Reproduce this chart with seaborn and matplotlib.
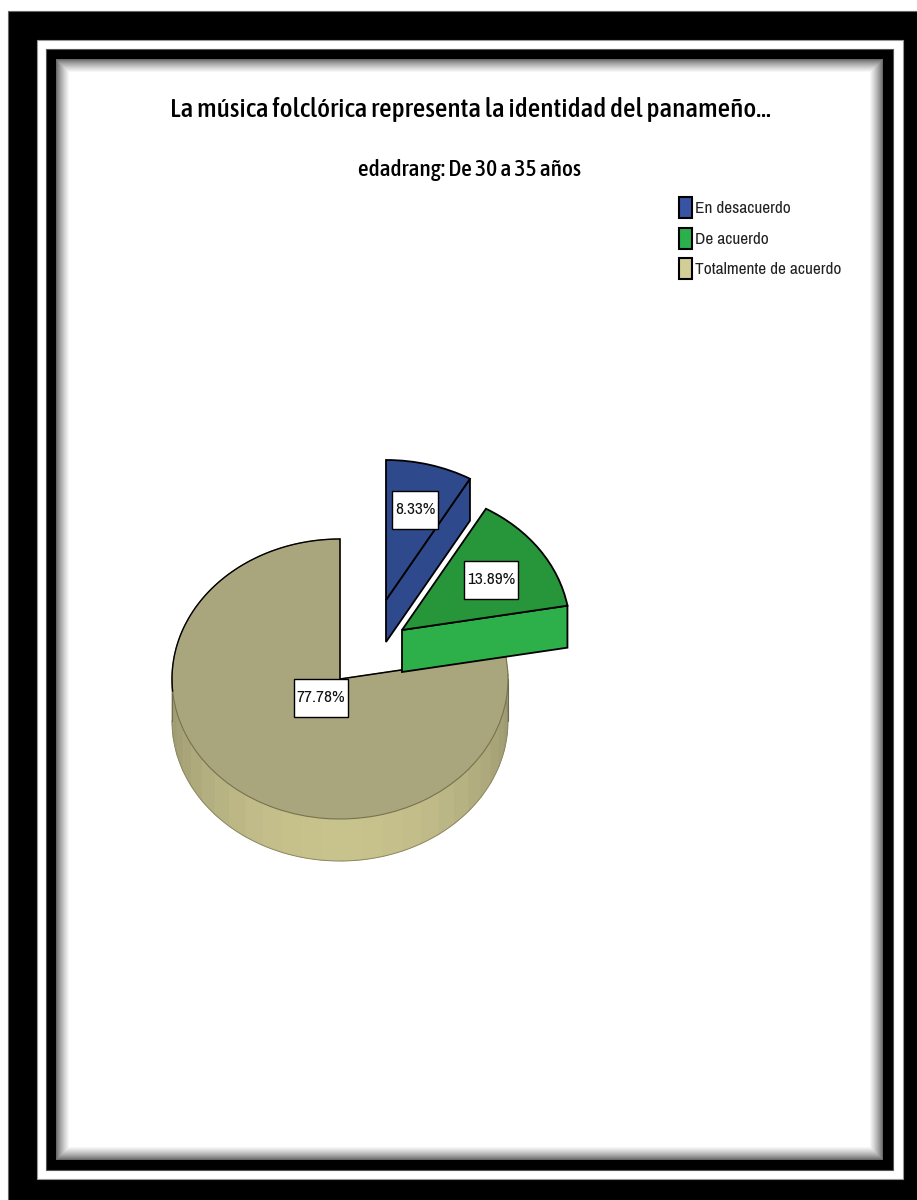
import numpy as np
import seaborn as sns
import matplotlib
matplotlib.use('Agg')
import matplotlib.pyplot as plt
from matplotlib.patches import Rectangle, Polygon, Patch

# datos del grafico
categorias = ['En desacuerdo', 'De acuerdo', 'Totalmente de acuerdo']
porcentajes = [8.33, 13.89, 77.78]
titulo = 'La música folclórica representa la identidad del panameño...'
subtitulo = 'edadrang: De 30 a 35 años'

sns.set_theme(style='white')
FUENTE = ['Archivo Narrow', 'Liberation Sans', 'DejaVu Sans']
FUENTE_B = ['Asap Condensed', 'Liberation Sans', 'DejaVu Sans']
PESO_B = 500
plt.rcParams['font.family'] = FUENTE

colores_leyenda = sns.color_palette(['#3953A4', '#2BB14B', '#D3CE97'])
colores_cara = sns.color_palette(['#2F4A8C', '#27963A', '#A9A57C'])
colores_lado = sns.color_palette(['#2F4A8C', '#2DB04A', '#C8C28D'])

W, H = 917, 1200
fig = plt.figure(figsize=(W / 100, H / 100), dpi=100, facecolor='white')

# ---- marco negro con sombra interior (en pixeles)
marco = fig.add_axes([0, 0, 1, 1], zorder=0)
marco.set_xlim(0, W)
marco.set_ylim(H, 0)
marco.axis('off')
marco.add_patch(Rectangle((8, 11), W, H, fc='black', ec='#666666', lw=0.8))
marco.add_patch(Rectangle((37, 40), 866, 1139, fc='white', ec='#999999', lw=0.8))
marco.add_patch(Rectangle((46, 49), 847, 1121, fc='black', ec='#555555', lw=0.8))
pasos = 14
for i in range(pasos):
    gris = min(1.0, 0.3 + 0.7 * ((i + 1) / pasos) ** 0.7)
    marco.add_patch(Rectangle((56 + i, 59 + i), 827 - 2 * i, 1101 - 2 * i,
                              fc='white' if i == pasos - 1 else (gris, gris, gris),
                              ec='none', antialiased=False))

# ---- pastel: una unidad = 168 px en x y 140 px en y
RX, RY = 168.0, 140.0
CX, CY = 340.0, 679.0
FONDO = 42.0 / RY
ax = fig.add_axes([0, 0, 1, 1], zorder=1)
ax.patch.set_alpha(0)
wedges, _ = ax.pie(porcentajes, colors=colores_cara, startangle=90, counterclock=False,
                   radius=1, wedgeprops={'edgecolor': 'black', 'linewidth': 1.3})
ax.set_aspect('auto')
ax.set_xlim(-CX / RX, (W - CX) / RX)
ax.set_ylim(-(H - CY) / RY, CY / RY)
ax.axis('off')

# desplazamiento de las porciones separadas
despl = {0: (46 / RX, 79 / RY), 1: (62 / RX, 49 / RY), 2: (0, 0)}
for i, w in enumerate(wedges):
    w.set_center(despl[i])

# lado del pastel grande, con degradado por franjas
w3 = wedges[2]
borde_osc = np.array(matplotlib.colors.to_rgb('#9C9870'))
borde_cla = np.array(colores_lado[2])
paso_ang = 7.0
for a in np.arange(180, 370, paso_ang):
    a0, a1 = np.radians(a), np.radians(a + paso_ang)
    t = np.sin(np.clip((a + paso_ang / 2 - 180) / 180, 0, 1) * np.pi) ** 1.3
    col = borde_osc * (1 - t) + borde_cla * t
    p = [(np.cos(a0), np.sin(a0)), (np.cos(a1), np.sin(a1)),
         (np.cos(a1), np.sin(a1) - FONDO), (np.cos(a0), np.sin(a0) - FONDO)]
    ax.add_patch(Polygon(p, fc=col, ec=col, lw=0.6, zorder=1))
ang = np.radians(np.linspace(180, 370, 120))
ax.plot(np.cos(ang), np.sin(ang) - FONDO, color='#8A8862', lw=0.7, zorder=1.5)
ax.plot([-1, -1], [0, -FONDO], color='#6E6C4E', lw=0.8, zorder=1.5)
ax.plot([1, 1], [0, -FONDO], color='#6E6C4E', lw=0.8, zorder=1.5)
w3.set_zorder(2)
w3.set_linewidth(0.8)
w3.set_edgecolor('#75734F')

# borde negro solo en la parte de arriba y en los cortes
arco = np.radians(np.linspace(90, 185, 60))
ax.plot(np.cos(arco), np.sin(arco), color='black', lw=1.0, zorder=2.5)
ax.plot([0, 0, np.cos(np.radians(w3.theta2))], [1, 0, np.sin(np.radians(w3.theta2))],
        color='black', lw=1.1, zorder=2.5)

# caras de corte de las porciones separadas
for i, z in [(1, 3), (0, 5)]:
    w = wedges[i]
    cx, cy = w.center
    th = np.radians(w.theta1)
    px, py = cx + np.cos(th), cy + np.sin(th)
    ax.add_patch(Polygon([(cx, cy), (px, py), (px, py - FONDO), (cx, cy - FONDO)],
                         fc=colores_lado[i], ec='black', lw=1.3, zorder=z))
    w.set_zorder(z + 1)

# ---- textos en pixeles
txt = fig.add_axes([0, 0, 1, 1], zorder=2)
txt.patch.set_alpha(0)
txt.set_xlim(0, W)
txt.set_ylim(H, 0)
txt.axis('off')
rend = fig.canvas.get_renderer()


def talla_para(cadena, ancho, fuente, peso='normal'):
    # tamano de letra que da el ancho pedido en pixeles, sirva la fuente que sirva
    t = txt.text(0, 0, cadena, fontsize=20, family=fuente, fontweight=peso)
    w = t.get_window_extent(rend).width
    t.remove()
    return 20 * ancho / w


txt.text(470, 109, titulo, ha='center', va='center', family=FUENTE_B, fontweight=PESO_B,
         fontsize=talla_para(titulo, 600, FUENTE_B, PESO_B), color='black')
txt.text(470, 170, subtitulo, ha='center', va='center', family=FUENTE_B, fontweight=PESO_B,
         fontsize=talla_para(subtitulo, 223, FUENTE_B, PESO_B), color='black')

talla_etq = talla_para('13.89%', 48, FUENTE)
pos_etiquetas = [(415, 510), (491, 580), (321, 698)]
for (x, y), v in zip(pos_etiquetas, porcentajes):
    t = txt.text(x, y, f'{v:.2f}%', ha='center', va='center', fontsize=talla_etq, color='#111111', zorder=6)
    ancho = t.get_window_extent(rend).width + 6
    txt.add_patch(Rectangle((x - ancho / 2, y - 19), ancho, 38, fc='white', ec='black', lw=1.0, zorder=5))

talla_ley = talla_para(categorias[2], 146, FUENTE)
fs_px = talla_ley * 100 / 72
alto_manija = (21 / fs_px - 0.245) / 0.65  # la leyenda recorta parte de handleheight
manijas = [Patch(fc=c, ec='black', lw=1.5) for c in colores_leyenda]
txt.legend(manijas, categorias, loc='upper left', bbox_to_anchor=(679 / W, 1 - 197 / H),
           frameon=False, fontsize=talla_ley, handlelength=13 / fs_px, handleheight=alto_manija,
           handletextpad=3 / fs_px, labelspacing=9.5 / fs_px, borderpad=0, borderaxespad=0,
           labelcolor='#222222')

plt.savefig('out.png', dpi=100)
